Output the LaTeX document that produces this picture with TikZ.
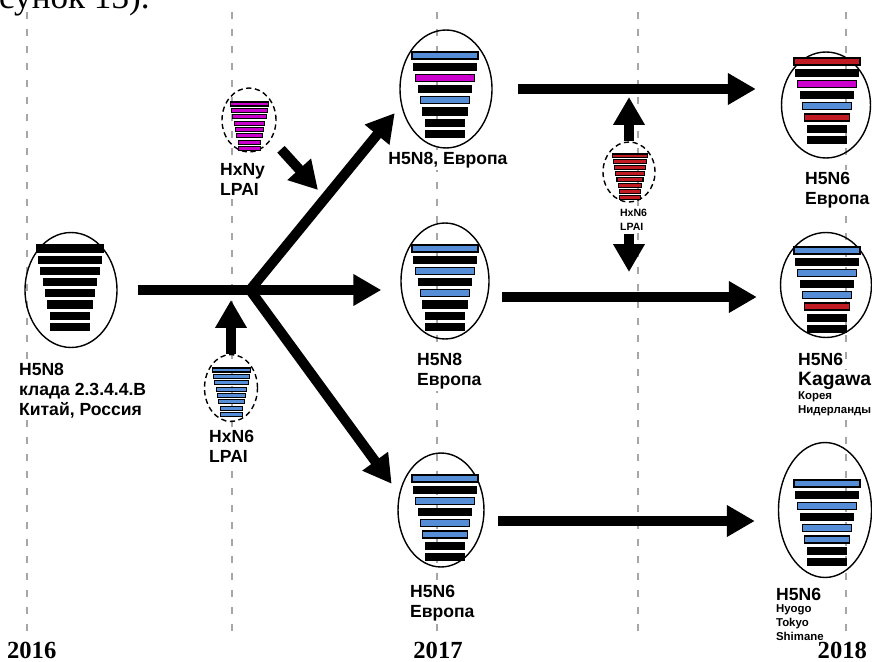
\documentclass[tikz,border=0pt]{standalone}
\usepackage{fontspec}
\setmainfont{Liberation Serif}
\setsansfont{Liberation Sans}
\usetikzlibrary{arrows.meta,shapes.geometric}
\definecolor{segblue}{RGB}{85,142,215}
\definecolor{segmag}{RGB}{204,0,204}
\definecolor{segred}{RGB}{192,26,34}
% genome segments: x centre, top y, scale, colours from top to bottom
\newcommand{\segs}[4]{%
  \foreach \c [count=\i from 0] in {#4}{%
    \pgfmathsetmacro{\hw}{{66,63,59,53,49,45,38,38}[\i]*#3/2}%
    \pgfmathsetmacro{\ty}{#2+11.2*#3*\i}%
    \draw[bar,fill=\c] (#1-\hw,\ty) rectangle (#1+\hw,\ty+7*#3);
  }}

\begin{document}
\begin{tikzpicture}[x=0.02cm,y=-0.02cm,
  cell/.style={ellipse,draw,line width=0.8pt,inner sep=0pt},
  lpai/.style={ellipse,draw,dash pattern=on 3pt off 2pt,line width=0.8pt,inner sep=0pt},
  bar/.style={line width=0.6pt},
  lab/.style={font=\sffamily\bfseries\fontsize{10}{11.5}\selectfont,fill=white,inner sep=1pt,align=left},
  small/.style={lab,font=\sffamily\bfseries\fontsize{6.5}{7.8}\selectfont},
  flow/.style={line width=0.2cm,-{Triangle[length=0.56cm,width=0.6cm]}},
  guide/.style={gray!70,line width=0.8pt,dash pattern=on 0.14cm off 0.2cm},
  year/.style={font=\bfseries\fontsize{14}{14}\selectfont,fill=white,inner sep=1pt}]
  \useasboundingbox (0,0) rectangle (872,662);
  \clip (0,0) rectangle (872,662);
  \node[font=\fontsize{20}{20}\selectfont,anchor=base east,inner sep=0pt] (cap) at (150,9) {рисунок 13).};
  \foreach \gx in {27,232,437,638,846}
    \draw[guide] (\gx,12) -- (\gx,640);

  % strains
  \node[cell,minimum width=1.84cm,minimum height=2.3cm] (h5n8) at (71,290) {};
  \segs{70}{245}{1}{black,black,black,black,black,black,black,black}
  \node[lpai,minimum width=1.08cm,minimum height=1.28cm] (hxny) at (249,120) {};
  \segs{249.5}{102}{0.57}{segmag,segmag,segmag,segmag,segmag,segmag,segmag,segmag}
  \node[lpai,minimum width=1.06cm,minimum height=1.34cm] (hxn6b) at (231,388) {};
  \segs{231.5}{368}{0.57}{segblue,segblue,segblue,segblue,segblue,segblue,segblue,segblue}
  \node[cell,minimum width=1.84cm,minimum height=2.36cm] (eu1) at (446,89) {};
  \segs{445}{52}{1}{segblue,black,segmag,black,segblue,black,black,black}
  \node[cell,minimum width=1.76cm,minimum height=2.32cm] (eu2) at (445,281) {};
  \segs{445}{245}{1}{segblue,black,segblue,black,segblue,black,black,black}
  \node[cell,minimum width=1.72cm,minimum height=2.28cm] (eu3) at (441,510) {};
  \segs{445}{475}{1}{segblue,black,segblue,black,segblue,segblue,black,black}
  \node[lpai,minimum width=1.04cm,minimum height=1.2cm] (hxn6r) at (629,172) {};
  \segs{630}{154}{0.53}{segred,segred,segred,segred,segred,segred,segred,segred}
  \node[cell,minimum width=1.78cm,minimum height=2.12cm] (eu4) at (826,105) {};
  \segs{827}{58}{1}{segred,black,segmag,black,segblue,segred,black,black}
  \node[cell,minimum width=1.82cm,minimum height=2.1cm] (eu5) at (826,285) {};
  \segs{827}{247}{1}{segblue,black,segblue,black,segblue,segred,black,black}
  \node[cell,minimum width=1.86cm,minimum height=2.7cm] (eu6) at (825,510) {};
  \segs{827}{480}{1}{segblue,black,segblue,black,segblue,segblue,black,black}

  % labels
  \node[lab,anchor=north west] (l0) at (17,361) {H5N8\\клада 2.3.4.4.B\\Китай, Россия};
  \node[lab,anchor=north west] (lny) at (218,161) {HxNy\\LPAI};
  \node[lab,anchor=north west] (lnb) at (207,428) {HxN6\\LPAI};
  \node[lab,anchor=north] (l1) at (448,150) {H5N8, Европа};
  \node[lab,anchor=north west] (l2) at (415,351) {H5N8\\Европа};
  \node[lab,anchor=north west] (l3) at (408,583) {H5N6\\Европа};
  \node[small,font=\sffamily\bfseries\fontsize{6}{7.8}\selectfont,anchor=north west] (lnr) at (618,207) {HxN6\\LPAI};
  \node[lab,anchor=north west] (l4) at (803,170) {H5N6\\Европа};
  \node[lab,anchor=north west] (l5) at (796,351) {H5N6};
  \node[lab,font=\sffamily\bfseries\fontsize{11}{13}\selectfont,anchor=north west] (l5k) at (796,370) {Kagawa};
  \node[small,anchor=north west] (l5c) at (796,390) {Корея\\Нидерланды};
  \node[lab,anchor=north west] (l6) at (774,586) {H5N6};
  \node[small,anchor=north west] (l6c) at (774,603) {Hyogo\\Tokyo\\Shimane};
  \node[year,anchor=base west] (y16) at (5,658) {2016};
  \node[year,anchor=base] (y17) at (438,658) {2017};
  \node[year,anchor=base east] (y18) at (869,658) {2018};

  % spread
  \coordinate (j) at (250,290);
  \coordinate (nyend) at (318,190);
  \coordinate (rup) at (629,97);
  \coordinate (rdown) at (629,272);
  \draw[flow,shorten <=0.4cm,shorten >=0.38cm] (h5n8.east) -- (h5n8 -| eu2.west);
  \draw[flow,shorten >=0.2cm] (j) -- (eu1.200);
  \draw[flow,shorten >=0.25cm] (j) -- (eu3.159);
  \draw[flow,shorten >=0.2cm] (hxn6b.north) -- (hxn6b.north |- j);
  \draw[flow,shorten <=0.28cm] (hxny.-40) -- (nyend);
  \draw[flow,shorten <=0.5cm,shorten >=0.5cm] (eu1.east) -- (eu1.east -| eu4.west);
  \draw[flow,shorten <=1.14cm,shorten >=0.46cm] ([yshift=-0.32cm]eu2.center) -- ([yshift=-0.32cm]eu2 -| eu5.west);
  \draw[flow,shorten <=1.14cm,shorten >=0.46cm] ([yshift=-0.22cm]eu3.center) -- ([yshift=-0.22cm]eu3 -| eu6.west);
  \draw[flow] (hxn6r.north) -- (rup);
  \draw[flow,shorten <=0.62cm] (hxn6r.south) -- (rdown);
\end{tikzpicture}
\end{document}
